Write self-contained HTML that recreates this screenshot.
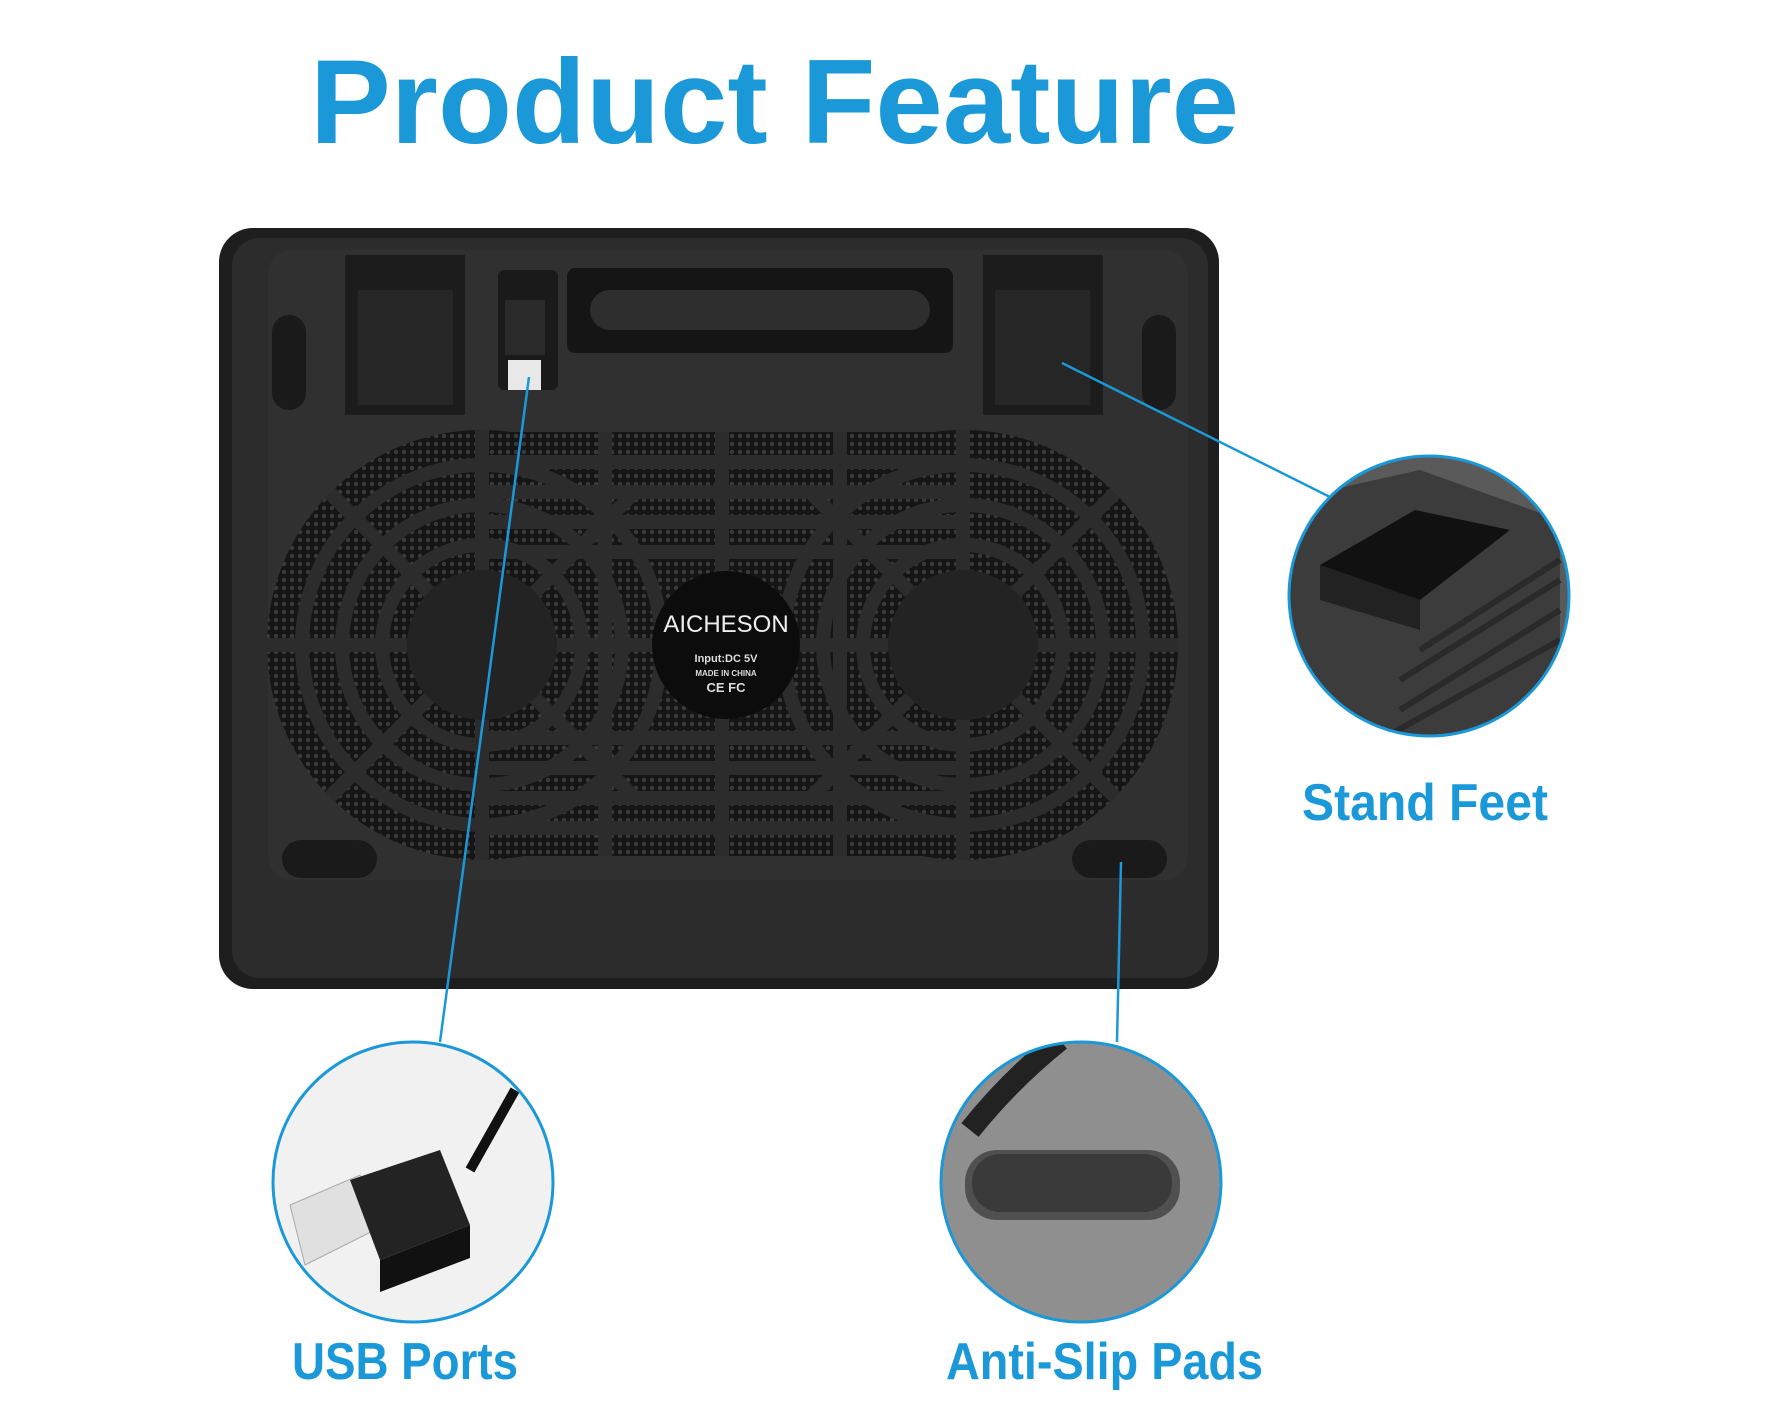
<!DOCTYPE html>
<html><head><meta charset="utf-8"><style>
html,body{margin:0;padding:0;background:#fff;}
svg{display:block;}
text{font-family:"Liberation Sans",sans-serif;font-weight:bold;fill:#1b98d8;}
</style></head><body>
<svg width="1781" height="1425" viewBox="0 0 1781 1425" xmlns="http://www.w3.org/2000/svg">
<defs>
<clipPath id="grill">
  <circle cx="482" cy="645" r="215"/>
  <circle cx="963" cy="645" r="215"/>
  <rect x="482" y="432" width="481" height="424"/>
</clipPath>
<clipPath id="c1"><circle cx="1429" cy="596" r="140"/></clipPath>
<clipPath id="c2"><circle cx="413" cy="1182" r="140"/></clipPath>
<clipPath id="c3"><circle cx="1081" cy="1182" r="140"/></clipPath>
<pattern id="mesh" width="8" height="8" patternUnits="userSpaceOnUse">
  <rect width="8" height="8" fill="#151515"/><circle cx="4" cy="4" r="2.2" fill="#3a3a3a"/>
</pattern>
</defs>

<text x="310" y="143" font-size="120" textLength="929" lengthAdjust="spacingAndGlyphs">Product Feature</text>

<rect x="219" y="228" width="1000" height="761" rx="34" fill="#1e1e1e"/>
<rect x="232" y="238" width="976" height="740" rx="28" fill="#2c2c2c"/>
<rect x="268" y="250" width="920" height="630" rx="24" fill="#303030"/>
<rect x="345" y="255" width="120" height="160" fill="#1c1c1c"/>
<rect x="358" y="290" width="95" height="115" fill="#262626"/>
<rect x="983" y="255" width="120" height="160" fill="#1c1c1c"/>
<rect x="995" y="290" width="95" height="115" fill="#262626"/>
<rect x="498" y="270" width="60" height="120" rx="6" fill="#1a1a1a"/>
<rect x="505" y="300" width="40" height="55" fill="#2a2a2a"/>
<rect x="508" y="360" width="33" height="30" fill="#e8e8e8"/>
<rect x="567" y="268" width="386" height="85" rx="8" fill="#151515"/>
<rect x="590" y="290" width="340" height="40" rx="20" fill="#2e2e2e"/>
<rect x="272" y="315" width="34" height="95" rx="17" fill="#1a1a1a"/>
<rect x="1142" y="315" width="34" height="95" rx="17" fill="#1a1a1a"/>
<rect x="282" y="840" width="95" height="38" rx="19" fill="#1a1a1a"/>
<rect x="1072" y="840" width="95" height="38" rx="19" fill="#1a1a1a"/>

<g clip-path="url(#grill)">
  <rect x="260" y="420" width="920" height="450" fill="url(#mesh)"/>
  <g fill="none" stroke="#2c2c2c" stroke-width="14">
    <circle cx="482" cy="645" r="100"/><circle cx="482" cy="645" r="140"/><circle cx="482" cy="645" r="180"/>
    <circle cx="963" cy="645" r="100"/><circle cx="963" cy="645" r="140"/><circle cx="963" cy="645" r="180"/>
    <line x1="260" y1="645" x2="1180" y2="645"/>
    <line x1="482" y1="420" x2="482" y2="870"/><line x1="963" y1="420" x2="963" y2="870"/>
    <line x1="330" y1="493" x2="634" y2="797"/><line x1="634" y1="493" x2="330" y2="797"/>
    <line x1="811" y1="493" x2="1115" y2="797"/><line x1="1115" y1="493" x2="811" y2="797"/>
    <line x1="605" y1="420" x2="605" y2="870"/><line x1="722" y1="420" x2="722" y2="870"/><line x1="840" y1="420" x2="840" y2="870"/>
  </g>
  <g stroke="#2c2c2c" stroke-width="14">
    <line x1="482" y1="462" x2="963" y2="462"/><line x1="482" y1="492" x2="963" y2="492"/><line x1="482" y1="522" x2="963" y2="522"/>
    <line x1="482" y1="552" x2="963" y2="552"/>
    <line x1="482" y1="738" x2="963" y2="738"/><line x1="482" y1="768" x2="963" y2="768"/><line x1="482" y1="798" x2="963" y2="798"/><line x1="482" y1="828" x2="963" y2="828"/>
  </g>
</g>
<circle cx="482" cy="645" r="75" fill="#232323"/>
<circle cx="963" cy="645" r="75" fill="#232323"/>
<circle cx="726" cy="645" r="74" fill="#0c0c0c"/>
<text x="726" y="632" font-size="24" text-anchor="middle" style="fill:#eee;font-weight:normal">AICHESON</text>
<text x="726" y="662" font-size="11" text-anchor="middle" style="fill:#ddd">Input:DC 5V</text>
<text x="726" y="676" font-size="8" text-anchor="middle" style="fill:#ddd">MADE IN CHINA</text>
<text x="726" y="692" font-size="13" text-anchor="middle" style="fill:#ddd">CE FC</text>

<g stroke="#1b98d8" stroke-width="2.5" fill="none">
  <line x1="529" y1="377" x2="440" y2="1042"/>
  <line x1="1062" y1="363" x2="1336" y2="500"/>
  <line x1="1121" y1="862" x2="1117" y2="1042"/>
</g>

<g clip-path="url(#c1)">
  <rect x="1280" y="450" width="300" height="300" fill="#5a5a5a"/>
  <path d="M1285 500 L1420 470 L1560 520 L1560 760 L1280 760 Z" fill="#3c3c3c"/>
  <polygon points="1320,565 1415,510 1510,530 1420,600" fill="#111"/>
  <polygon points="1320,565 1420,600 1420,630 1320,600" fill="#222"/>
  <g stroke="#2a2a2a" stroke-width="6">
    <line x1="1400" y1="680" x2="1560" y2="580"/><line x1="1400" y1="710" x2="1560" y2="610"/>
    <line x1="1380" y1="740" x2="1560" y2="640"/><line x1="1420" y1="650" x2="1560" y2="560"/>
  </g>
</g>
<circle cx="1429" cy="596" r="140" fill="none" stroke="#1b98d8" stroke-width="3"/>

<g clip-path="url(#c2)">
  <rect x="270" y="1040" width="290" height="290" fill="#f1f1f1"/>
  <path d="M515 1090 L470 1170" stroke="#111" stroke-width="10" fill="none"/>
  <polygon points="290,1205 360,1175 375,1230 305,1265" fill="#e0e0e0" stroke="#aaa"/>
  <polygon points="350,1180 440,1150 470,1225 380,1260" fill="#232323"/>
  <polygon points="380,1260 470,1225 470,1258 380,1292" fill="#111"/>
</g>
<circle cx="413" cy="1182" r="140" fill="none" stroke="#1b98d8" stroke-width="3"/>

<g clip-path="url(#c3)">
  <rect x="940" y="1040" width="290" height="290" fill="#8f8f8f"/>
  <path d="M1060 1040 Q1010 1080 970 1130" stroke="#222" stroke-width="22" fill="none"/>
  <rect x="965" y="1150" width="215" height="70" rx="32" fill="#505050"/>
  <rect x="972" y="1154" width="200" height="58" rx="28" fill="#3a3a3a"/>
</g>
<circle cx="1081" cy="1182" r="140" fill="none" stroke="#1b98d8" stroke-width="3"/>

<text x="1302" y="820" font-size="52" textLength="246" lengthAdjust="spacingAndGlyphs">Stand Feet</text>
<text x="292" y="1379" font-size="52" textLength="226" lengthAdjust="spacingAndGlyphs">USB Ports</text>
<text x="946" y="1379" font-size="52" textLength="317" lengthAdjust="spacingAndGlyphs">Anti-Slip Pads</text>
</svg>
</body></html>
